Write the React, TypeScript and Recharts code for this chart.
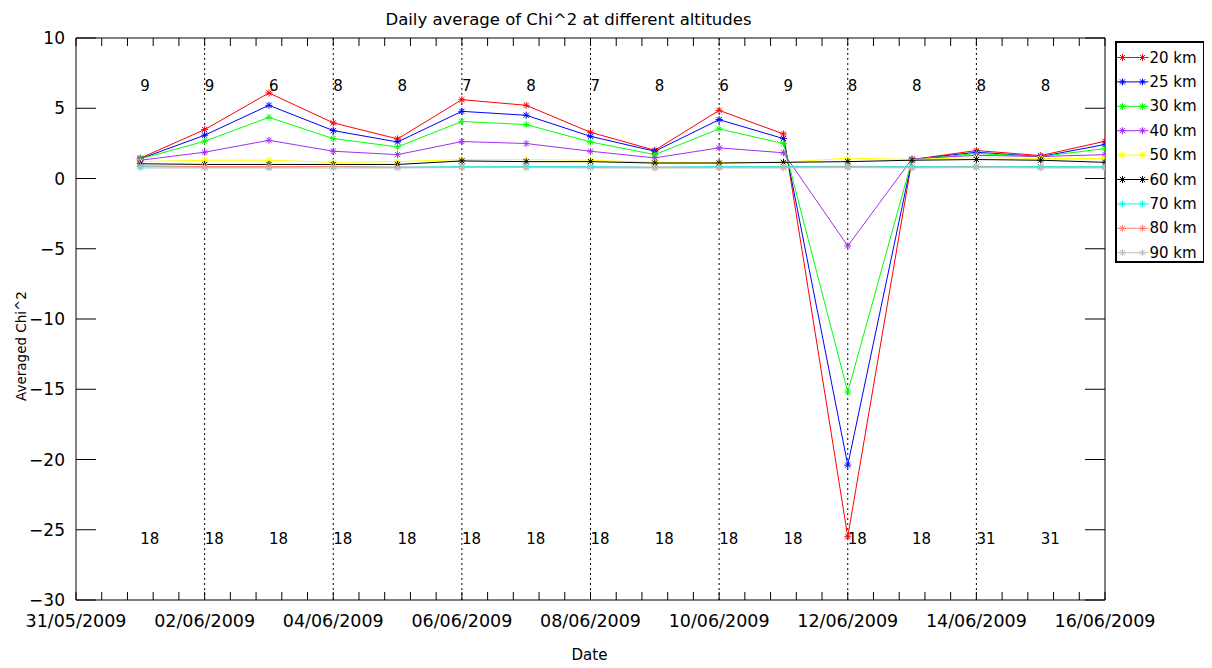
import React from 'react';
import {
  LineChart, Line, XAxis, YAxis, ReferenceLine, ReferenceDot, Legend,
} from 'recharts';

// ---------- data ----------
const dates = [
  '01/06/2009', '02/06/2009', '03/06/2009', '04/06/2009', '05/06/2009', '06/06/2009',
  '07/06/2009', '08/06/2009', '09/06/2009', '10/06/2009', '11/06/2009', '12/06/2009',
  '13/06/2009', '14/06/2009', '15/06/2009', '16/06/2009',
];

const km20 = [1.45, 3.48, 6.09, 3.96, 2.82, 5.61, 5.21, 3.29, 2.01, 4.85, 3.17, -25.5, 1.35, 1.99, 1.63, 2.65];
const km25 = [1.4, 3.08, 5.21, 3.41, 2.6, 4.78, 4.5, 3.0, 1.94, 4.19, 2.84, -20.4, 1.35, 1.87, 1.56, 2.42];
const km30 = [1.4, 2.65, 4.35, 2.84, 2.25, 4.06, 3.84, 2.6, 1.7, 3.53, 2.49, -15.2, 1.35, 1.78, 1.56, 2.13];
const km40 = [1.3, 1.87, 2.72, 1.94, 1.7, 2.63, 2.49, 1.94, 1.47, 2.18, 1.83, -4.8, 1.4, 1.65, 1.56, 1.7];
const km50 = [1.2, 1.3, 1.3, 1.15, 1.2, 1.35, 1.35, 1.3, 1.15, 1.15, 1.15, 1.45, 1.35, 1.5, 1.42, 1.42];
const km60 = [1.05, 1.0, 1.0, 1.0, 1.0, 1.25, 1.2, 1.2, 1.1, 1.1, 1.15, 1.2, 1.3, 1.35, 1.3, 1.15];
const km70 = [0.85, 0.8, 0.8, 0.85, 0.8, 0.86, 0.86, 0.85, 0.8, 0.86, 0.85, 0.87, 0.85, 0.86, 0.85, 0.86];
const km80 = [0.9, 0.85, 0.85, 0.85, 0.8, 0.8, 0.8, 0.8, 0.8, 0.8, 0.8, 0.82, 0.8, 0.82, 0.8, 0.8];
const km90 = [0.75, 0.75, 0.75, 0.75, 0.75, 0.78, 0.78, 0.75, 0.75, 0.75, 0.75, 0.78, 0.75, 0.78, 0.75, 0.75];

const topCounts = ['9', '9', '6', '8', '8', '7', '8', '7', '8', '6', '9', '8', '8', '8', '8'];
const bottomCounts = ['18', '18', '18', '18', '18', '18', '18', '18', '18', '18', '18', '18', '18', '31', '31'];

const yTicks = [-30, -25, -20, -15, -10, -5, 0, 5, 10];

const seriesDefs = [
  { key: 'km20', name: '20 km', values: km20, color: '#ff0000' },
  { key: 'km25', name: '25 km', values: km25, color: '#0000ff' },
  { key: 'km30', name: '30 km', values: km30, color: '#00ff00' },
  { key: 'km40', name: '40 km', values: km40, color: '#a030f0' },
  { key: 'km50', name: '50 km', values: km50, color: '#ffff00' },
  { key: 'km60', name: '60 km', values: km60, color: '#000000' },
  { key: 'km70', name: '70 km', values: km70, color: '#00ffff' },
  { key: 'km80', name: '80 km', values: km80, color: '#ff8070' },
  { key: 'km90', name: '90 km', values: km90, color: '#c0c0c0' },
];

// ---------- helpers ----------
const DAY = 86400000;
const parseDate = (s: string) => {
  const [d, m, y] = s.split('/').map(Number);
  return Date.UTC(y, m - 1, d);
};
const START = parseDate('31/05/2009');
const END = parseDate('16/06/2009');

const xTicks: number[] = [];
for (let i = 0; i <= 40; i++) xTicks.push(START + i * 0.4 * DAY);

const fmtDate = (t: number) => {
  const d = (t - START) / DAY;
  const r = Math.round(d);
  if (Math.abs(d - r) > 1e-6 || r % 2 !== 0) return '';
  const dt = new Date(t);
  const dd = String(dt.getUTCDate()).padStart(2, '0');
  const mm = String(dt.getUTCMonth() + 1).padStart(2, '0');
  return `${dd}/${mm}/${dt.getUTCFullYear()}`;
};

const dividerDays = [2, 4, 6, 8, 10, 12, 14].map((n) => START + n * DAY);

const data = dates.map((s, i) => {
  const row: any = { t: parseDate(s) };
  seriesDefs.forEach((sd) => { row[sd.key] = sd.values[i]; });
  return row;
});

const FONT = 'DejaVu Sans, sans-serif';

const Asterisk = ({ cx, cy, stroke }: any) => {
  if (cx == null || cy == null) return null;
  const s = 3.5;
  const d = 2.6;
  return (
    <g stroke={stroke} strokeWidth={1}>
      <line x1={cx - s} y1={cy} x2={cx + s} y2={cy} />
      <line x1={cx} y1={cy - s} x2={cx} y2={cy + s} />
      <line x1={cx - d} y1={cy - d} x2={cx + d} y2={cy + d} />
      <line x1={cx - d} y1={cy + d} x2={cx + d} y2={cy - d} />
    </g>
  );
};

const LEG_W = 90;
const LEG_H = 222;

const LegendBox = (props: any) => {
  const payload = props.payload || [];
  const rowH = 24.4;
  return (
    <svg width={LEG_W} height={LEG_H} viewBox={`0 0 ${LEG_W} ${LEG_H}`} style={{ display: 'block', width: LEG_W, height: LEG_H }}>
      <rect x={1} y={1} width={LEG_W - 2} height={LEG_H - 2} fill="#fff" stroke="#000" strokeWidth={2} />
      {payload.map((p: any, i: number) => {
        const y = 16.5 + i * rowH;
        return (
          <g key={p.value}>
            <line x1={2} y1={y} x2={33.5} y2={y} stroke={p.color} strokeWidth={1} />
            <Asterisk cx={7.5} cy={y} stroke={p.color} />
            <Asterisk cx={27.5} cy={y} stroke={p.color} />
            <text x={34.5} y={y + 5} fontSize={15} fontFamily={FONT} fill="#000">{p.value}</text>
          </g>
        );
      })}
    </svg>
  );
};

export default function App() {
  return (
    <div style={{ width: 1204, height: 660, background: '#fff' }}>
      <LineChart
        width={1204}
        height={660}
        data={data}
        margin={{ top: 0, right: 97, bottom: 0, left: 0 }}
        style={{ fontFamily: FONT }}
      >
        <XAxis
          xAxisId="bottom"
          dataKey="t"
          type="number"
          domain={[START, END]}
          ticks={xTicks}
          interval={0}
          tickFormatter={fmtDate}
          height={68}
          tickSize={-8}
          tickMargin={23}
          stroke="#000"
          tick={{ fill: '#000', fontSize: 17.5, fontFamily: FONT }}
          tickLine={{ stroke: '#000' }}
          axisLine={{ stroke: '#000' }}
          allowDataOverflow
          label={{ value: 'Date', position: 'insideBottom', offset: 8, dx: -1, fill: '#000', fontSize: 15, fontFamily: FONT }}
        />
        <XAxis
          xAxisId="top"
          orientation="top"
          type="number"
          dataKey="t"
          domain={[START, END]}
          ticks={xTicks}
          interval={0}
          tickFormatter={() => ''}
          height={30}
          tickSize={-8}
          stroke="#000"
          tickLine={{ stroke: '#000' }}
          axisLine={{ stroke: '#000' }}
          allowDataOverflow
          label={{ value: 'Daily average of Chi^2 at different altitudes', position: 'insideTop', offset: 5, dx: -22, fill: '#000', fontSize: 16.5, fontFamily: FONT }}
        />
        <YAxis
          yAxisId="left"
          type="number"
          domain={[-30, 10]}
          ticks={yTicks}
          interval={0}
          width={68}
          tickSize={-20}
          tickMargin={31}
          tickFormatter={(v: number) => String(v).replace('-', '\u2212')}
          stroke="#000"
          tick={{ fill: '#000', fontSize: 17, fontFamily: FONT }}
          tickLine={{ stroke: '#000' }}
          axisLine={{ stroke: '#000' }}
          allowDataOverflow
          label={{ value: 'Averaged Chi^2', angle: -90, position: 'center', dx: -21, dy: 27, fill: '#000', fontSize: 13.5, fontFamily: FONT }}
        />
        <YAxis
          yAxisId="right"
          orientation="right"
          type="number"
          domain={[-30, 10]}
          ticks={yTicks}
          interval={0}
          width={10}
          tickSize={-20}
          tickFormatter={() => ''}
          stroke="#000"
          tickLine={{ stroke: '#000' }}
          axisLine={{ stroke: '#000' }}
          allowDataOverflow
        />
        {dividerDays.map((t) => (
          <ReferenceLine
            key={t}
            x={t}
            xAxisId="bottom"
            yAxisId="left"
            stroke="#000"
            strokeDasharray="2 3"
            strokeWidth={1}
          />
        ))}
        {seriesDefs.map((sd) => (
          <Line
            key={sd.key}
            xAxisId="bottom"
            yAxisId="left"
            type="linear"
            dataKey={sd.key}
            name={sd.name}
            stroke={sd.color}
            strokeWidth={1}
            isAnimationActive={false}
            dot={(p: any) => {
              const { key, ...rest } = p;
              return <Asterisk key={`${sd.key}-${p.index}`} {...rest} stroke={sd.color} />;
            }}
            activeDot={false}
          />
        ))}
        {topCounts.map((c, i) => (
          <ReferenceDot
            key={`top-${i}`}
            xAxisId="bottom"
            yAxisId="left"
            x={parseDate(dates[i])}
            y={6.6}
            r={0}
            fill="none"
            stroke="none"
            ifOverflow="visible"
            label={{ value: c, position: 'right', offset: 0, fill: '#000', fontSize: 15, fontFamily: FONT }}
          />
        ))}
        {bottomCounts.map((c, i) => (
          <ReferenceDot
            key={`bot-${i}`}
            xAxisId="bottom"
            yAxisId="left"
            x={parseDate(dates[i])}
            y={-25.6}
            r={0}
            fill="none"
            stroke="none"
            ifOverflow="visible"
            label={{ value: c, position: 'right', offset: 0, fill: '#000', fontSize: 15, fontFamily: FONT }}
          />
        ))}
        <Legend
          layout="vertical"
          align="center"
          verticalAlign="middle"
          content={<LegendBox />}
          wrapperStyle={{ position: 'absolute', left: 1107, right: 'auto', bottom: 'auto', top: 33, width: LEG_W, height: LEG_H }}
        />
      </LineChart>
    </div>
  );
}
